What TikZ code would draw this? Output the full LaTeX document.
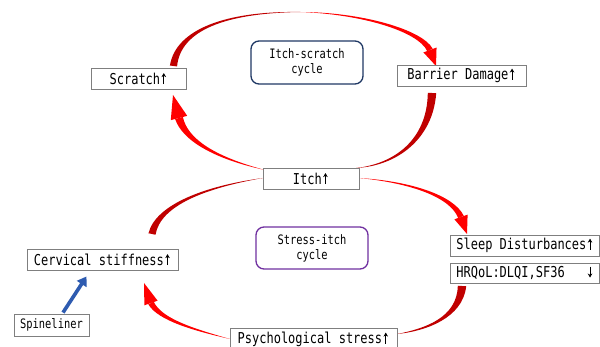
\documentclass[tikz,border=0pt]{standalone}
\usepackage{fontspec}
\newfontfamily\boxfont{DejaVu Sans Mono}[FakeStretch=0.8]
\usetikzlibrary{calc,arrows.meta}
\newcommand{\uparr}{\tikz[baseline=0pt,x=1pt,y=1pt]{\useasboundingbox (-3.6,0) rectangle (3.6,11);
  \draw[line width=0.9pt, -{Stealth[length=4pt,width=4.6pt]}] (0,0) -- (0,11);}}
\newcommand{\downarr}{\tikz[baseline=0pt,x=1pt,y=1pt]{\useasboundingbox (-3.6,0) rectangle (3.6,11);
  \draw[line width=0.9pt, -{Stealth[length=4pt,width=4.6pt]}] (0,11) -- (0,0);}}
\definecolor{cycdark}{HTML}{C00000}
\definecolor{cycbright}{HTML}{FF0000}
\definecolor{boxgray}{HTML}{7F7F7F}
\definecolor{navyline}{HTML}{1F3864}
\definecolor{purpline}{HTML}{7030A0}
\definecolor{spineblue}{HTML}{2E5BB0}
% tapered fill: colour, thin end, control 1, control 2, thick end, half width (pt)
\newcommand{\taperfill}[6]{%
  \pgfmathsetmacro\tpwa{#6/3}\pgfmathsetmacro\tpwb{2*#6/3}%
  \fill[#1] (#2) .. controls ($(#3)!\tpwa pt!90:(#4)$) and ($(#4)!\tpwb pt!90:(#5)$) .. ($(#5)!#6pt!-90:(#4)$)
    -- ($(#5)!#6pt!90:(#4)$) .. controls ($(#4)!\tpwb pt!-90:(#5)$) and ($(#3)!\tpwa pt!-90:(#4)$) .. (#2) -- cycle;}
\newcommand{\headfill}[4]{% colour, base centre, tip, half width
  \fill[#1] ($(#2)!#4pt!90:(#3)$) -- (#3) -- ($(#2)!#4pt!-90:(#3)$) -- cycle;}
\tikzset{
  statebox/.style={draw=boxgray, line width=0.9pt, fill=white, rectangle, inner sep=0pt,
    font=\boxfont\fontsize{15}{16}\selectfont},
  cyclebox/.style={line width=1.3pt, fill=white, rounded corners=8pt, inner sep=0pt, align=center,
    minimum width=112pt, font=\boxfont\fontsize{13}{15}\selectfont},
}
\begin{document}
\begin{tikzpicture}[x=1pt,y=-1pt]
\useasboundingbox (0,0) rectangle (600,347);
\fill[white] (0,0) rectangle (600,347);

% ---- connectors of the itch-scratch cycle ----
\coordinate (ta) at (300,12);
\coordinate (sa) at (173.5,66);
\coordinate (hba) at (430,50);
\coordinate (hta) at (436,66);
\coordinate (bc) at (432,93);
\coordinate (ic) at (356,168);
\coordinate (id) at (265,170);
\coordinate (hbd) at (179,118);
\coordinate (htd) at (173,95);
\taperfill{cycdark}{ta}{225,12}{178,30}{sa}{3.6}
\taperfill{cycbright}{ta}{360,13}{420,30}{hba}{3}
\headfill{cycbright}{hba}{hta}{7}
\taperfill{cycdark}{ic}{395,165}{430,140}{bc}{4.2}
\taperfill{cycbright}{id}{215,158}{185,140}{hbd}{4}
\headfill{cycbright}{hbd}{htd}{8.5}

% ---- connectors of the stress-itch cycle ----
\coordinate (ie) at (263,178);
\coordinate (ce) at (152,234);
\coordinate (if) at (359,178);
\coordinate (hbf) at (461,217);
\coordinate (htf) at (467,234);
\coordinate (pg) at (397,334);
\coordinate (hg) at (462,286);
\coordinate (ph) at (230,339);
\coordinate (hbh) at (151,303);
\coordinate (hth) at (144,283);
\taperfill{cycdark}{ie}{205,187}{158,205}{ce}{3.6}
\taperfill{cycbright}{if}{410,182}{452,196}{hbf}{3}
\headfill{cycbright}{hbf}{htf}{7}
\taperfill{cycdark}{pg}{425,330}{460,318}{hg}{4.2}
\taperfill{cycbright}{ph}{195,330}{160,320}{hbh}{3}
\headfill{cycbright}{hbh}{hth}{7}

% ---- nodes ----
\node[statebox, minimum width=95pt, minimum height=21pt] (scratch) at (138.5,78.5) {Scratch\uparr};
\node[statebox, minimum width=129pt, minimum height=21pt] (barrier) at (461.5,75.5) {Barrier Damage\uparr};
\node[cyclebox, draw=navyline, minimum height=43pt] (iscycle) at (307,62.5) {Itch-scratch\\cycle};
\node[statebox, minimum width=96pt, minimum height=21pt] (itch) at (311,178.5) {Itch\uparr};
\node[cyclebox, draw=purpline, minimum height=42pt] (sicycle) at (312,248) {Stress-itch\\cycle};
\node[statebox, minimum width=151pt, minimum height=21pt] (cerv) at (102.5,259.5) {Cervical stiffness\uparr};
\node[statebox, minimum width=75pt, minimum height=22pt, font=\boxfont\fontsize{13}{15}\selectfont] (spine) at (51.5,325) {Spineliner};
\node[statebox, minimum width=167pt, minimum height=22pt] (psych) at (313.5,339.5) {Psychological stress\uparr};
\node[statebox, minimum width=149pt, minimum height=21pt] (sleep) at (525,245.5) {Sleep Disturbances\uparr};
\node[statebox, minimum width=149pt, minimum height=20pt] (hrqol) at (525,273) {HRQoL:DLQI,SF36\ \ \ \downarr};

% ---- blue arrow ----
\draw[spineblue, line width=3.6pt, -{Triangle[width=11pt,length=9pt]}]
  ($(spine.north)+(11.5,-1)$) -- ($(cerv.south west)+(60,6)$);
\end{tikzpicture}
\end{document}
